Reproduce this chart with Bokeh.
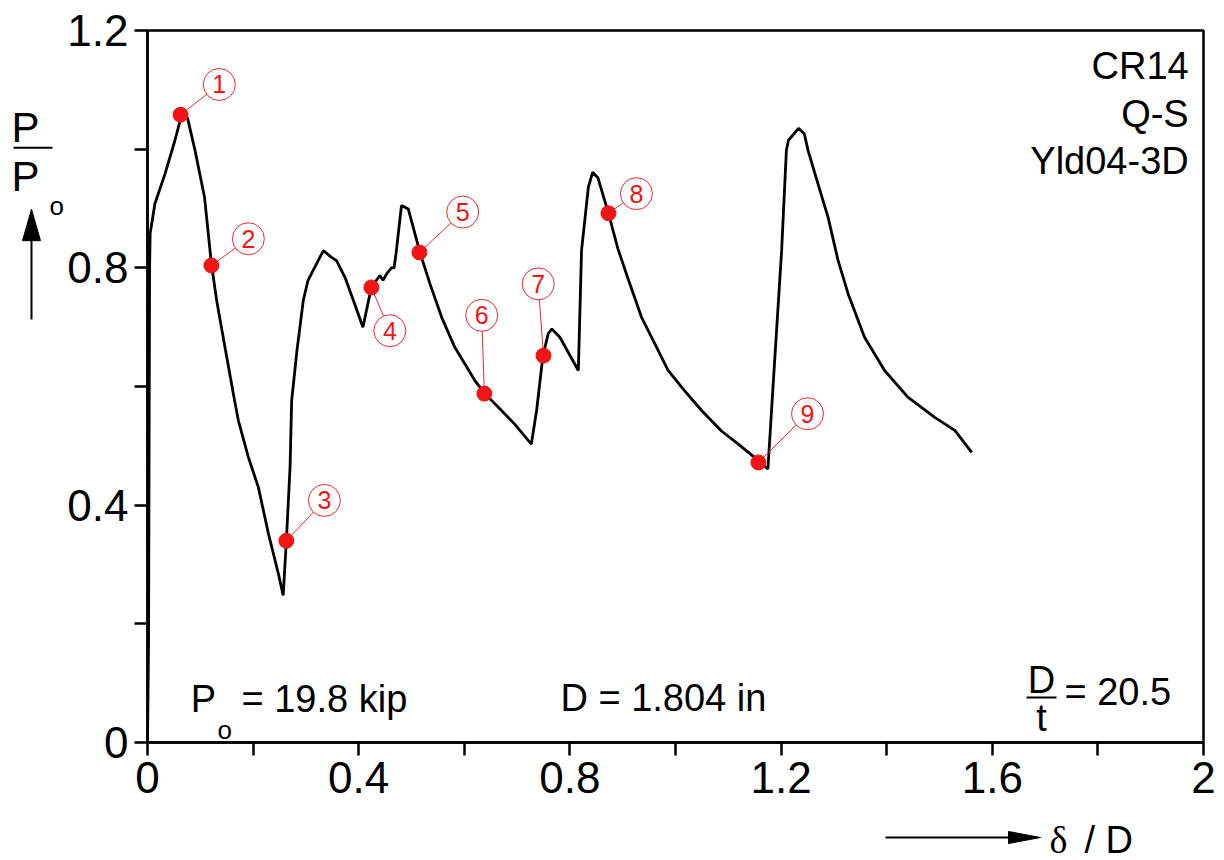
from bokeh.plotting import figure
from bokeh.layouts import row, column
from bokeh.models import FixedTicker, Range1d
from bokeh.core.properties import value
from bokeh.embed import file_html
from bokeh.resources import INLINE

# ---- data ----
curve_x = [0.0, 0.002, 0.003, 0.004, 0.005, 0.014, 0.033, 0.052, 0.063, 0.070, 0.076, 0.090,
           0.108, 0.121, 0.131, 0.148, 0.165, 0.172, 0.191, 0.210, 0.229, 0.248, 0.257, 0.263,
           0.270, 0.273, 0.283, 0.295, 0.304, 0.314, 0.333, 0.348, 0.358, 0.374, 0.390, 0.408,
           0.424, 0.440, 0.446, 0.453, 0.462, 0.467, 0.471, 0.481, 0.494, 0.516, 0.535, 0.557,
           0.582, 0.620, 0.639, 0.670, 0.695, 0.727, 0.737, 0.749, 0.759, 0.766, 0.781, 0.816,
           0.822, 0.835, 0.843, 0.853, 0.873, 0.891, 0.910, 0.936, 0.961, 0.986, 1.017, 1.049,
           1.087, 1.119, 1.157, 1.175, 1.185, 1.201, 1.210, 1.214, 1.233, 1.244, 1.251, 1.270,
           1.289, 1.308, 1.327, 1.358, 1.396, 1.440, 1.491, 1.529, 1.561]
curve_y = [0.0, 0.17, 0.50, 0.80, 0.858, 0.908, 0.958, 1.015, 1.052, 1.058, 1.052, 0.998,
           0.919, 0.807, 0.745, 0.660, 0.576, 0.543, 0.481, 0.430, 0.352, 0.284, 0.248, 0.340,
           0.464, 0.576, 0.660, 0.745, 0.779, 0.796, 0.829, 0.818, 0.812, 0.784, 0.745, 0.700,
           0.767, 0.787, 0.779, 0.790, 0.800, 0.800, 0.826, 0.905, 0.899, 0.826, 0.773, 0.717,
           0.666, 0.610, 0.588, 0.560, 0.537, 0.503, 0.560, 0.652, 0.689, 0.697, 0.683, 0.627,
           0.829, 0.936, 0.961, 0.952, 0.892, 0.832, 0.782, 0.716, 0.672, 0.627, 0.593, 0.560,
           0.525, 0.503, 0.475, 0.461, 0.604, 0.829, 0.998, 1.015, 1.035, 1.026, 0.998, 0.941,
           0.885, 0.812, 0.756, 0.683, 0.627, 0.582, 0.548, 0.526, 0.489]

point_labels = ["1", "2", "3", "4", "5", "6", "7", "8", "9"]
point_x = [0.0625, 0.121, 0.263, 0.424, 0.515, 0.638, 0.750, 0.873, 1.157]
point_y = [1.058, 0.804, 0.340, 0.767, 0.826, 0.588, 0.652, 0.892, 0.472]
tag_x = [0.136, 0.191, 0.335, 0.459, 0.597, 0.633, 0.740, 0.926, 1.250]
tag_y = [1.109, 0.849, 0.408, 0.694, 0.894, 0.720, 0.773, 0.925, 0.554]

x_ticks = [0.0, 0.4, 0.8, 1.2, 1.6, 2.0]
x_tick_labels = ["0", "0.4", "0.8", "1.2", "1.6", "2"]
x_minor = [0.2, 0.6, 1.0, 1.4, 1.8]
y_ticks = [0.0, 0.4, 0.8, 1.2]
y_tick_labels = ["0", "0.4", "0.8", "1.2"]
y_minor = [0.2, 0.6, 1.0]

specimen_lines = ["CR14", "Q-S", "Yld04-3D"]
specimen_y = [1.1394, 1.0585, 0.9793]

FONT = "Liberation Sans"
RED = "#f01414"
TAG_RED = "#ee2a2a"


def bare(width, height, xr, yr):
    f = figure(width=width, height=height, x_range=xr, y_range=yr,
               x_axis_type=None, y_axis_type=None, output_backend="svg",
               toolbar_location=None, min_border=0)
    f.outline_line_color = None
    f.xgrid.visible = False
    f.ygrid.visible = False
    return f


def txt(f, x, y, t, size="38px", align="left", font=FONT):
    f.text([x], [y], text=[t], text_font=value(font), text_font_size=size,
           text_align=align, text_baseline="middle", text_color="black")


# ---- main plot ----
p = figure(frame_width=1056, frame_height=712, x_range=(0, 2), y_range=(0, 1.2),
           output_backend="svg", toolbar_location=None,
           min_border_left=82, min_border_right=22, min_border_top=30, min_border_bottom=71)
p.xgrid.visible = False
p.ygrid.visible = False
p.outline_line_color = "black"
p.outline_line_width = 2.5
p.outline_line_alpha = 1.0

for ax, ticks, minor, labels in ((p.xaxis, x_ticks, x_minor, x_tick_labels),
                                 (p.yaxis, y_ticks, y_minor, y_tick_labels)):
    ax.ticker = FixedTicker(ticks=ticks, minor_ticks=minor)
    ax.major_label_overrides = dict(zip(ticks, labels))
    ax.major_tick_in = 0
    ax.major_tick_out = 13
    ax.minor_tick_in = 0
    ax.minor_tick_out = 13
    ax.major_tick_line_width = 2.5
    ax.minor_tick_line_width = 2.5
    ax.major_tick_line_color = "black"
    ax.minor_tick_line_color = "black"
    ax.axis_line_width = 2.5
    ax.axis_line_color = "black"
    ax.major_label_text_font = FONT
    ax.major_label_text_font_size = "44px"
    ax.major_label_text_color = "black"
    ax.major_label_standoff = 6

p.line(curve_x, curve_y, line_color="black", line_width=2.8)
p.segment(x0=point_x, y0=point_y, x1=tag_x, y1=tag_y, line_color=TAG_RED, line_width=1)
p.scatter(point_x, point_y, size=15, fill_color=RED, line_color=RED)
p.scatter(tag_x, tag_y, size=32, fill_color="white", line_color=TAG_RED, line_width=1)
p.text(tag_x, tag_y, text=point_labels, text_align="center", text_baseline="middle",
       text_font=value(FONT), text_font_size="25px", text_color=RED)

# specimen text, top right
for t, yy in zip(specimen_lines, specimen_y):
    txt(p, 1.972, yy, t, align="right")

# bottom texts
txt(p, 0.082, 0.0733, "P")
txt(p, 0.1326, 0.0219, "o", size="26px")
txt(p, 0.178, 0.0733, "= 19.8 kip")
txt(p, 0.782, 0.075, "D = 1.804 in")
txt(p, 1.6932, 0.1045, "D", align="center")
txt(p, 1.6932, 0.0421, "t", align="center")
p.segment(x0=[1.6648], y0=[0.0758], x1=[1.7216], y1=[0.0758], line_color="black", line_width=2)
txt(p, 1.7367, 0.0851, "= 20.5")

# ---- left strip: y label P / P_o with arrow (pixel coordinates, y downward) ----
L = bare(64, 813, Range1d(0, 64), Range1d(813, 0))
txt(L, 25, 111, "P", size="42px", align="center")
L.segment(x0=[13], y0=[134], x1=[52], y1=[134], line_color="black", line_width=2)
txt(L, 25, 167, "P", size="42px", align="center")
txt(L, 49, 200, "o", size="26px")
L.segment(x0=[31], y0=[330], x1=[31], y1=[236], line_color="black", line_width=2)
L.patch([31, 22, 40], [204, 240, 240], fill_color="black", line_color="black", line_width=1)

# ---- bottom strip: x label arrow and delta / D (pixel coordinates, y downward) ----
B = bare(1224, 47, Range1d(0, 1224), Range1d(47, 0))
B.segment(x0=[885], y0=[24], x1=[1012], y1=[24], line_color="black", line_width=2)
B.patch([1008, 1040, 1008], [18, 24, 30], fill_color="black", line_color="black", line_width=1)
txt(B, 1049, 26, "δ", size="38px", font="Liberation Serif")
txt(B, 1084, 26, "/ D", size="38px")

layout = column(row(L, p, spacing=0), B, spacing=0)

open("out.html", "w").write(file_html(layout, INLINE))
